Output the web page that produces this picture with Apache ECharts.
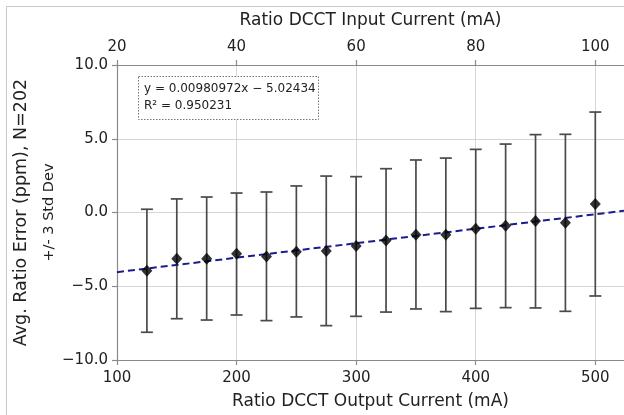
<!DOCTYPE html>
<html>
<head>
<meta charset="utf-8">
<script src="https://cdn.jsdelivr.net/npm/echarts@6/dist/echarts.min.js"></script>
<style>html,body{margin:0;padding:0;background:#fff;}#c{width:624px;height:415px;}</style>
</head>
<body>
<div id="c"></div>
<script>
const outputCurrent = [125,150,175,200,225,250,275,300,325,350,375,400,425,450,475,500];
const meanErr  = [-3.95,-3.13,-3.13,-2.79,-2.99,-2.66,-2.61,-2.27,-1.89,-1.50,-1.50,-1.10,-0.89,-0.58,-0.69,0.58];
const upperErr = [0.22,0.92,1.05,1.32,1.39,1.80,2.47,2.43,2.97,3.56,3.69,4.28,4.64,5.28,5.30,6.81];
const lowerErr = [-8.12,-7.20,-7.29,-6.95,-7.33,-7.08,-7.67,-7.04,-6.75,-6.54,-6.72,-6.50,-6.45,-6.47,-6.70,-5.66];
const fitSlope = 0.00980972;
const fitIntercept = -5.02434;
const fitR2 = 0.950231;
const xRange = [100, 524];
const inputRange = [20, 104.8];
const yTicks = [-10, -5, 0, 5, 10];

const FONT = 'DejaVu Sans';
const fmtMinus = v => String(v).replace('-', '\u2212');

const chart = echarts.init(document.getElementById('c'), null, {renderer: 'canvas'});

const errData = outputCurrent.map((x, i) => [x, lowerErr[i], upperErr[i]]);
const pts = outputCurrent.map((x, i) => [x, meanErr[i]]);
const fitLine = xRange.map(x => [x, fitSlope * x + fitIntercept]);

const axisLineStyle = {color: '#8a8a8a', width: 1.2};

chart.setOption({
  animation: false,
  backgroundColor: '#fff',
  grid: {left: 117, right: 0, top: 65, bottom: 55, containLabel: false, outerBoundsMode: 'none'},
  xAxis: [{
    type: 'value', position: 'bottom', min: xRange[0], max: xRange[1], interval: 100,
    name: 'Ratio DCCT Output Current (mA)', nameLocation: 'middle', nameGap: 33, nameMoveOverlap: false,
    nameTextStyle: {fontFamily: FONT, fontSize: 17, color: '#222'},
    axisLine: {show: true, onZero: false, lineStyle: axisLineStyle},
    axisTick: {show: true, length: 5, inside: false, lineStyle: axisLineStyle},
    axisLabel: {fontFamily: FONT, fontSize: 15, color: '#222', margin: 11, showMaxLabel: false,
      formatter: v => (v % 100 === 0 ? String(v) : '')},
    splitLine: {show: true, lineStyle: {color: '#d6d6d6', width: 1}}
  }, {
    type: 'value', position: 'top', min: inputRange[0], max: inputRange[1], interval: 20,
    name: 'Ratio DCCT Input Current (mA)', nameLocation: 'middle', nameGap: 36, nameMoveOverlap: false,
    nameTextStyle: {fontFamily: FONT, fontSize: 17, color: '#222'},
    axisLine: {show: true, onZero: false, lineStyle: axisLineStyle},
    axisTick: {show: true, length: 5, inside: false, lineStyle: axisLineStyle},
    axisLabel: {fontFamily: FONT, fontSize: 15, color: '#222', margin: 10, showMaxLabel: false,
      formatter: v => (v % 20 === 0 ? String(v) : '')},
    splitLine: {show: false}
  }],
  yAxis: [{
    type: 'value', min: yTicks[0], max: yTicks[yTicks.length - 1], interval: 5,
    name: '{a|Avg. Ratio Error (ppm), N=202}\n{b|+/- 3 Std Dev}',
    nameLocation: 'middle', nameRotate: 90, nameGap: 54, nameMoveOverlap: false,
    nameTextStyle: {fontFamily: FONT, color: '#222', align: 'center',
      rich: {a: {fontFamily: FONT, fontSize: 17.5, lineHeight: 30, color: '#222'},
             b: {fontFamily: FONT, fontSize: 14.5, lineHeight: 27, color: '#222'}}},
    axisLine: {show: true, onZero: false, lineStyle: axisLineStyle},
    axisTick: {show: true, length: 5, inside: false, lineStyle: axisLineStyle},
    axisLabel: {fontFamily: FONT, fontSize: 15, color: '#222', margin: 9,
      formatter: v => fmtMinus(v.toFixed(1))},
    splitLine: {show: true, lineStyle: {color: '#d6d6d6', width: 1}}
  }],
  graphic: [
    {type: 'polyline', silent: true, z: 100,
      shape: {points: [[6.5, 415], [6.5, 6.5], [624, 6.5]]},
      style: {stroke: '#c8c8c8', lineWidth: 1, fill: null}},
    {type: 'rect', z: 100, shape: {x: 138.5, y: 76.5, width: 180, height: 43},
      style: {fill: '#fff', stroke: '#777', lineWidth: 1, lineDash: [1.5, 1.5]}},
    {type: 'text', z: 101, x: 144, y: 89,
      style: {text: 'y = ' + fitSlope + 'x \u2212 ' + Math.abs(fitIntercept), fontFamily: FONT, fontSize: 12,
        fill: '#222', verticalAlign: 'middle'}},
    {type: 'text', z: 101, x: 144, y: 106,
      style: {text: 'R\u00b2 = ' + fitR2, fontFamily: FONT, fontSize: 12,
        fill: '#222', verticalAlign: 'middle'}}
  ],
  series: [{
    type: 'custom', name: 'err', xAxisIndex: 0, yAxisIndex: 0, z: 2,
    data: errData,
    renderItem: function (params, api) {
      const x = api.value(0);
      const lo = api.coord([x, api.value(1)]);
      const hi = api.coord([x, api.value(2)]);
      const w = 6;
      const st = {stroke: '#4a4a4a', lineWidth: 1.7};
      return {type: 'group', children: [
        {type: 'line', shape: {x1: lo[0], y1: lo[1], x2: hi[0], y2: hi[1]}, style: st},
        {type: 'line', shape: {x1: lo[0] - w, y1: lo[1], x2: lo[0] + w, y2: lo[1]}, style: st},
        {type: 'line', shape: {x1: hi[0] - w, y1: hi[1], x2: hi[0] + w, y2: hi[1]}, style: st}
      ]};
    },
    encode: {x: 0, y: [1, 2]}
  }, {
    type: 'line', name: 'fit', xAxisIndex: 0, yAxisIndex: 0, z: 3,
    data: fitLine, showSymbol: false, symbol: 'none',
    lineStyle: {color: '#1c1c8c', width: 2, type: [7, 4]}
  }, {
    type: 'scatter', name: 'mean', xAxisIndex: 0, yAxisIndex: 0, z: 4,
    data: pts, symbol: 'diamond', symbolSize: [11, 12],
    itemStyle: {color: '#000'}
  }]
});
</script>
</body>
</html>
